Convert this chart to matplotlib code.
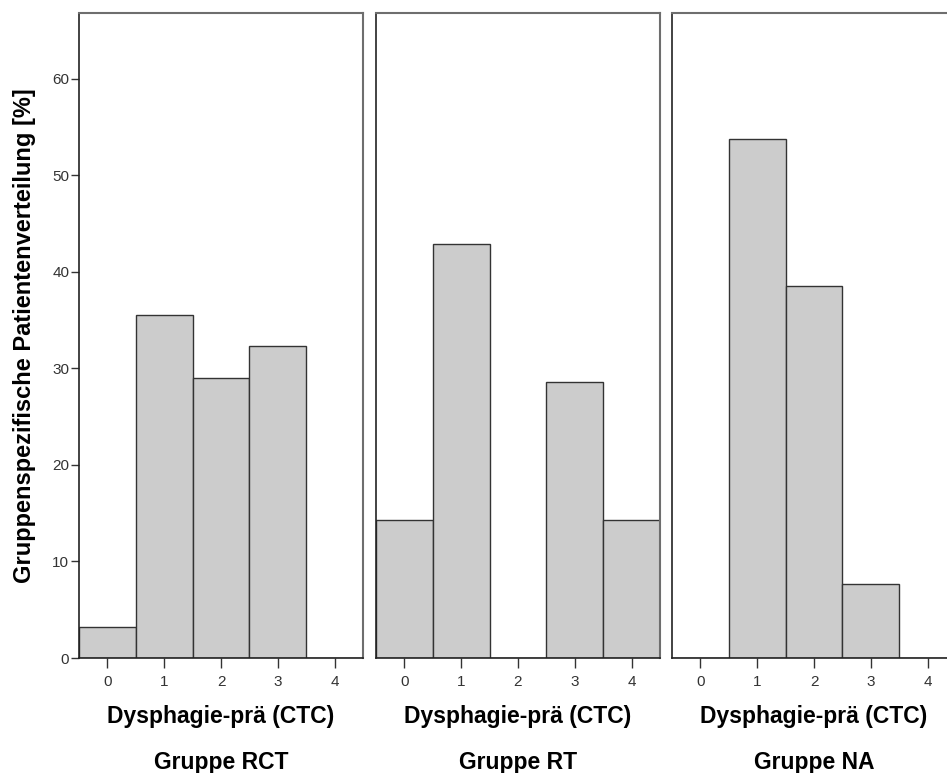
import matplotlib
matplotlib.use('Agg')
import matplotlib.pyplot as plt

plt.rcParams['font.family'] = ['Liberation Sans', 'DejaVu Sans']

# Dysphagie-prä (CTC) grades and group-wise shares in percent
grades = [0, 1, 2, 3, 4]
groups = ['Gruppe RCT', 'Gruppe RT', 'Gruppe NA']
pct_rct = [3.2, 35.5, 29.0, 32.3, 0.0]
pct_rt = [14.3, 42.9, 0.0, 28.6, 14.3]
pct_na = [0.0, 53.8, 38.5, 7.7, 0.0]
yticks = [0, 10, 20, 30, 40, 50, 60]

W, H = 947, 773
fig = plt.figure(figsize=(W / 100, H / 100), dpi=100)

lefts = [79, 376, 672]
pw = 284
top, bottom = 13, 658
ah = bottom - top

for i, (name, vals) in enumerate(zip(groups, [pct_rct, pct_rt, pct_na])):
    ax = fig.add_axes([lefts[i] / W, 1 - bottom / H, pw / W, ah / H])
    ax.bar(grades, vals, width=1.0, color='#cccccc', edgecolor='#333333', linewidth=1.0)
    ax.set_xlim(-0.5, 4.5)
    ax.set_ylim(0, 66.8)
    ax.set_xticks(grades)
    ax.tick_params(axis='x', length=7, width=1.0, color='#333333', labelsize=11,
                   labelcolor='#333333', pad=5)
    if i == 0:
        ax.set_yticks(yticks)
        ax.tick_params(axis='y', length=6, width=1.0, color='#333333', labelsize=11,
                       labelcolor='#333333', pad=1)
        ax.text(-54 / pw, 0.5, 'Gruppenspezifische Patientenverteilung [%]',
                transform=ax.transAxes, rotation=90, ha='center', va='center',
                fontsize=17, fontweight='bold')
    else:
        ax.set_yticks([])
    for s in ['left', 'bottom']:
        ax.spines[s].set_color('#222222')
        ax.spines[s].set_linewidth(1.2)
    for s in ['top', 'right']:
        ax.spines[s].set_color('#6e6e6e')
        ax.spines[s].set_linewidth(1.5)
    ax.text(0.5, -65 / ah, 'Dysphagie-prä (CTC)', transform=ax.transAxes,
            ha='center', va='baseline', fontsize=16.5, fontweight='bold')
    ax.text(0.5, -111 / ah, name, transform=ax.transAxes, ha='center', va='baseline',
            fontsize=16.5, fontweight='bold')

fig.savefig('out.png', dpi=100)
